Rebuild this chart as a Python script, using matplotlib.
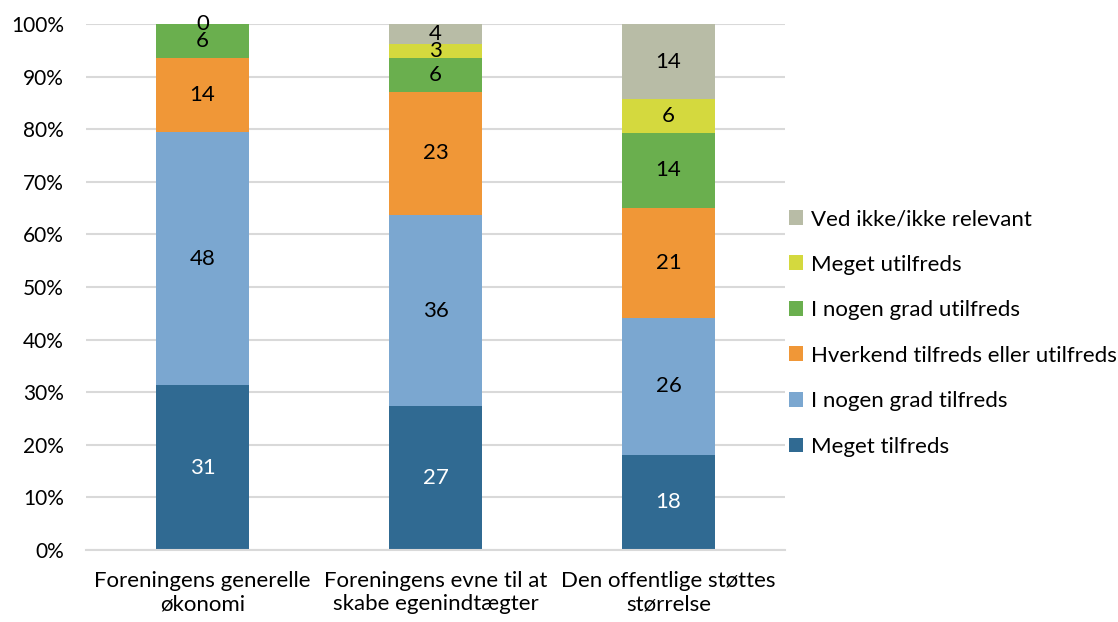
import matplotlib
matplotlib.use("Agg")
import matplotlib.pyplot as plt
from matplotlib.patches import Patch
import numpy as np

categories = ["Foreningens generelle\nøkonomi",
              "Foreningens evne til at\nskabe egenindtægter",
              "Den offentlige støttes\nstørrelse"]
series_names = ["Meget tilfreds", "I nogen grad tilfreds",
                "Hverkend tilfreds eller utilfreds", "I nogen grad utilfreds",
                "Meget utilfreds", "Ved ikke/ikke relevant"]
meget_tilfreds = [31.3, 27.3, 18.1]
nogen_tilfreds = [48.1, 36.4, 26.0]
hverkend = [14.2, 23.4, 20.9]
nogen_utilfreds = [6.4, 6.4, 14.3]
meget_utilfreds = [0.0, 2.7, 6.4]
ved_ikke = [None, 3.8, 14.3]
yticks = [0, 10, 20, 30, 40, 50, 60, 70, 80, 90, 100]

colors = ["#306A92", "#7BA7D0", "#F09737", "#6AAF4E", "#D4D93E", "#B8BCA6"]
text_colors = ["white", "black", "black", "black", "black", "black"]

plt.rcParams['font.family'] = ['Lato', 'DejaVu Sans']
FS = 16

fig = plt.figure(figsize=(11.18, 6.22), dpi=100)
ax = fig.add_axes([86/1118, 1 - 550/622, (785-86)/1118, (550-24)/622])

series = [meget_tilfreds, nogen_tilfreds, hverkend, nogen_utilfreds, meget_utilfreds, ved_ikke]
x = np.arange(len(categories))
bottom = np.zeros(len(categories))
for vals, col, tc, name in zip(series, colors, text_colors, series_names):
    v = np.array([0.0 if a is None else a for a in vals])
    ax.bar(x, v, width=0.4, bottom=bottom, color=col, zorder=2)
    for i, a in enumerate(vals):
        if a is None:
            continue
        ax.text(x[i], bottom[i] + a / 2, "%d" % round(a), ha="center", va="center",
                fontsize=FS, color=tc, zorder=3)
    bottom += v

ax.set_xlim(-0.5, 2.5)
ax.set_ylim(0, 100)
ax.set_yticks(yticks)
ax.set_yticklabels(["%d%%" % t for t in yticks], fontsize=15)
ax.set_xticks(x)
ax.set_xticklabels(categories, fontsize=FS, linespacing=1.22)
ax.tick_params(length=0, pad=15)
ax.tick_params(axis="y", pad=16)
ax.yaxis.grid(True, color="#D9D9D9", linewidth=1.5, zorder=0)
ax.set_axisbelow(True)
for s in ["top", "right", "left"]:
    ax.spines[s].set_visible(False)
ax.spines["bottom"].set_color("#D9D9D9")
ax.spines["bottom"].set_linewidth(1.5)

handles = [Patch(facecolor=c) for c in colors][::-1]
labels = series_names[::-1]
fig.legend(handles, labels, loc="upper left", bbox_to_anchor=(789/1118, 1 - 209/622),
           frameon=False, fontsize=FS, handlelength=0.65, handleheight=0.65,
           handletextpad=0.35, labelspacing=1.15, borderaxespad=0, borderpad=0)

fig.savefig("out.png", dpi=100)
